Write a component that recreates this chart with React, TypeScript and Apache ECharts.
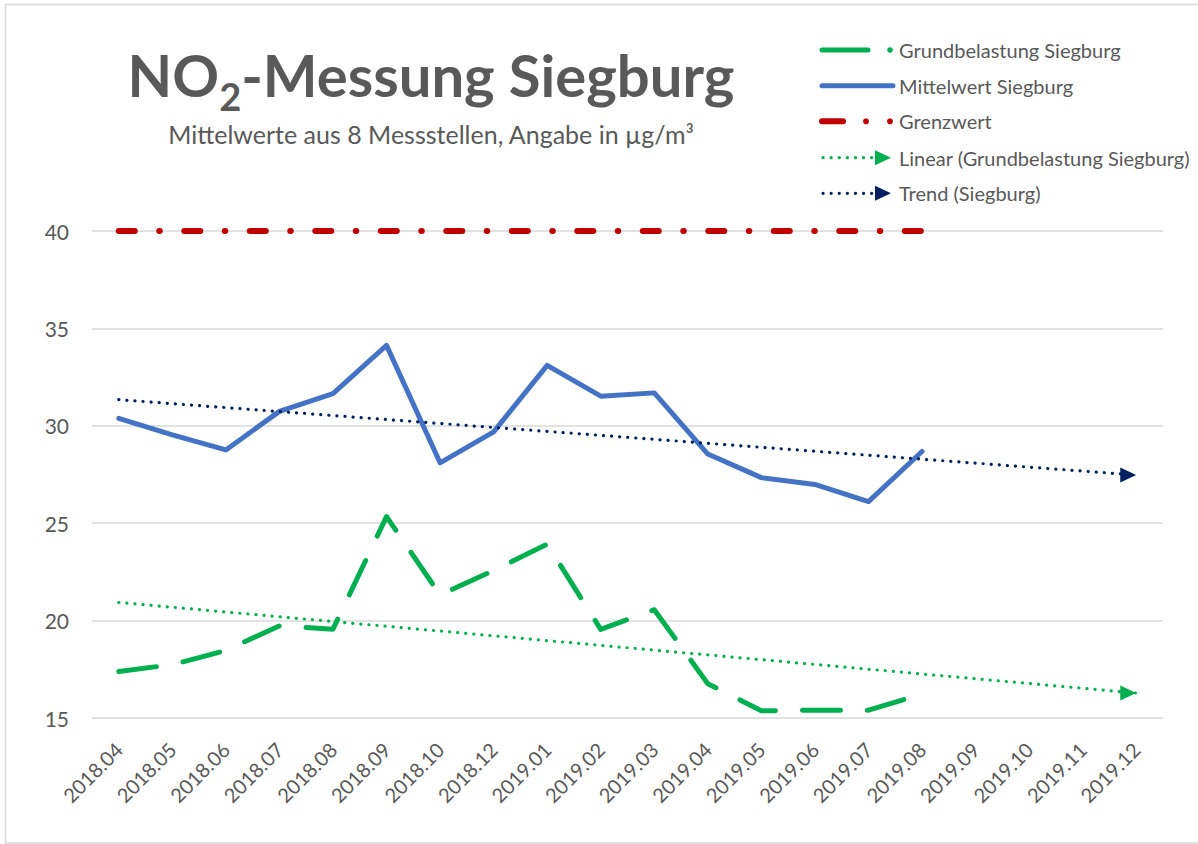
import React, { useEffect, useRef } from "react";
import * as echarts from "echarts";

const categories = [
  "2018.04", "2018.05", "2018.06", "2018.07", "2018.08", "2018.09", "2018.10", "2018.12",
  "2019.01", "2019.02", "2019.03", "2019.04", "2019.05", "2019.06", "2019.07", "2019.08",
  "2019.09", "2019.10", "2019.11", "2019.12",
];
const grundbelastung = [17.39, 17.74, 18.47, 19.73, 19.56, 25.34, 21.32, 22.57, 23.92, 19.55, 20.56, 16.76, 15.37, 15.4, 15.4, 16.23];
const mittelwert = [30.38, 29.53, 28.76, 30.74, 31.65, 34.13, 28.1, 29.69, 33.1, 31.52, 31.69, 28.55, 27.34, 26.99, 26.11, 28.68];
const grenzwert = [40, 40, 40, 40, 40, 40, 40, 40, 40, 40, 40, 40, 40, 40, 40, 40];
// trend lines: start value (2018.04) and end value (2019.12)
const trendGrund = [20.93, 16.28];
const trendMittel = [31.34, 27.47];
const yTicks = { min: 15, max: 40, interval: 5 };
const legendLabels = [
  "Grundbelastung Siegburg",
  "Mittelwert Siegburg",
  "Grenzwert",
  "Linear (Grundbelastung Siegburg)",
  "Trend (Siegburg)",
];
const titleParts = ["NO", "2", "-Messung Siegburg"];
const subtitle = "Mittelwerte aus 8 Messstellen, Angabe in µg/m³";

const GREEN = "#00B050";
const BLUE = "#4472C4";
const RED = "#C00000";
const NAVY = "#002060";
const GRAY = "#595959";
const FONT = "Lato, 'Open Sans', sans-serif";

function legendGraphics() {
  const rowsY = [50, 85.7, 121.3, 157.7, 193.3];
  const x0 = 822;
  const textX = 899;
  const els: any[] = [];
  els.push({ type: "line", shape: { x1: x0, y1: rowsY[0], x2: 868, y2: rowsY[0] }, style: { stroke: GREEN, lineWidth: 5, lineCap: "round" } });
  els.push({ type: "circle", shape: { cx: 890, cy: rowsY[0], r: 2.8 }, style: { fill: GREEN } });
  els.push({ type: "line", shape: { x1: x0, y1: rowsY[1], x2: 893, y2: rowsY[1] }, style: { stroke: BLUE, lineWidth: 5, lineCap: "round" } });
  els.push({ type: "line", shape: { x1: x0, y1: rowsY[2], x2: 843, y2: rowsY[2] }, style: { stroke: RED, lineWidth: 6, lineCap: "round" } });
  els.push({ type: "circle", shape: { cx: 866, cy: rowsY[2], r: 3 }, style: { fill: RED } });
  els.push({ type: "circle", shape: { cx: 890, cy: rowsY[2], r: 3 }, style: { fill: RED } });
  [[rowsY[3], GREEN], [rowsY[4], NAVY]].forEach(([y, c]: any) => {
    els.push({ type: "line", shape: { x1: 823, y1: y, x2: 873, y2: y }, style: { stroke: c, lineWidth: 3.2, lineCap: "round", lineDash: [0.1, 8] } });
    els.push({ type: "polygon", shape: { points: [[875, y - 7.5], [891, y], [875, y + 7.5]] }, style: { fill: c } });
  });
  legendLabels.forEach((t, i) => {
    els.push({
      type: "text",
      x: textX,
      y: rowsY[i],
      style: { text: t, fill: GRAY, fontFamily: FONT, fontSize: 20, verticalAlign: "middle" },
    });
  });
  return els;
}

export default function App() {
  const ref = useRef<HTMLDivElement>(null);
  useEffect(() => {
    if (!ref.current) return;
    const chart = echarts.init(ref.current, null, { renderer: "svg" });
    const lastIdx = categories.length - 1;
    const option: any = {
      animation: false,
      backgroundColor: "#ffffff",
      textStyle: { fontFamily: FONT },
      grid: { left: 92, right: 35, top: 231, bottom: 126, containLabel: false },
      xAxis: {
        type: "category",
        data: categories,
        boundaryGap: true,
        axisLine: { show: false },
        axisTick: { show: false },
        axisLabel: { rotate: 45, margin: 28, color: GRAY, fontSize: 20, fontFamily: FONT, interval: 0 },
      },
      yAxis: {
        type: "value",
        min: yTicks.min,
        max: yTicks.max,
        interval: yTicks.interval,
        axisLine: { show: false },
        axisTick: { show: false },
        axisLabel: { color: GRAY, fontSize: 21, fontFamily: FONT, margin: 23 },
        splitLine: { lineStyle: { color: "#D9D9D9", width: 1.5 } },
      },
      series: [
        {
          name: legendLabels[0],
          type: "line",
          data: grundbelastung,
          symbol: "none",
          z: 3,
          lineStyle: { color: GREEN, width: 5, type: [38, 27], cap: "round", join: "round" },
        },
        {
          name: legendLabels[1],
          type: "line",
          data: mittelwert,
          symbol: "none",
          z: 3,
          lineStyle: { color: BLUE, width: 5, type: "solid", cap: "round", join: "round" },
        },
        {
          name: legendLabels[2],
          type: "line",
          data: grenzwert,
          symbol: "none",
          z: 3,
          lineStyle: { color: RED, width: 6, type: [16, 24.5, 0.5, 24.5], cap: "round" },
        },
        {
          name: legendLabels[3],
          type: "line",
          data: [
            { value: [0, trendGrund[0]], symbol: "none" },
            { value: [lastIdx, trendGrund[1]], symbol: "triangle", symbolSize: [15, 16], symbolRotate: -90, symbolOffset: [-8, 0] },
          ],
          symbol: "triangle",
          showSymbol: true,
          itemStyle: { color: GREEN },
          z: 4,
          lineStyle: { color: GREEN, width: 3.2, type: [0.1, 8], cap: "round" },
        },
        {
          name: legendLabels[4],
          type: "line",
          data: [
            { value: [0, trendMittel[0]], symbol: "none" },
            { value: [lastIdx, trendMittel[1]], symbol: "triangle", symbolSize: [15, 16], symbolRotate: -90, symbolOffset: [-8, 0] },
          ],
          symbol: "triangle",
          showSymbol: true,
          itemStyle: { color: NAVY },
          z: 4,
          lineStyle: { color: NAVY, width: 3.2, type: [0.1, 8], cap: "round" },
        },
      ],
      graphic: [
        {
          type: "rect",
          shape: { x: 5.5, y: 4.5, width: 1210, height: 838.5 },
          style: { fill: "none", stroke: "#D9D9D9", lineWidth: 1.5 },
          silent: true,
        },
        {
          type: "text",
          x: 431,
          y: 45,
          style: {
            text: `{a|${titleParts[0]}}{s|${titleParts[1]}}{a|${titleParts[2]}}`,
            textAlign: "center",
            rich: {
              a: { fontFamily: FONT, fontWeight: "bold", fontSize: 58, lineHeight: 60, fill: GRAY, color: GRAY, verticalAlign: "top" },
              s: { fontFamily: FONT, fontWeight: "bold", fontSize: 38, lineHeight: 40, fill: GRAY, color: GRAY, verticalAlign: "top", padding: [32, 0, 0, 0] },
            },
          },
        },
        {
          type: "text",
          x: 431,
          y: 134,
          style: { text: subtitle, textAlign: "center", verticalAlign: "middle", fill: GRAY, fontFamily: FONT, fontSize: 25 },
        },
        ...legendGraphics(),
      ],
    };
    chart.setOption(option);
    return () => chart.dispose();
  }, []);
  return (
    <div
      ref={ref}
      style={{ position: "absolute", left: 0, top: 0, width: 1198, height: 844, background: "#fff" }}
    />
  );
}
